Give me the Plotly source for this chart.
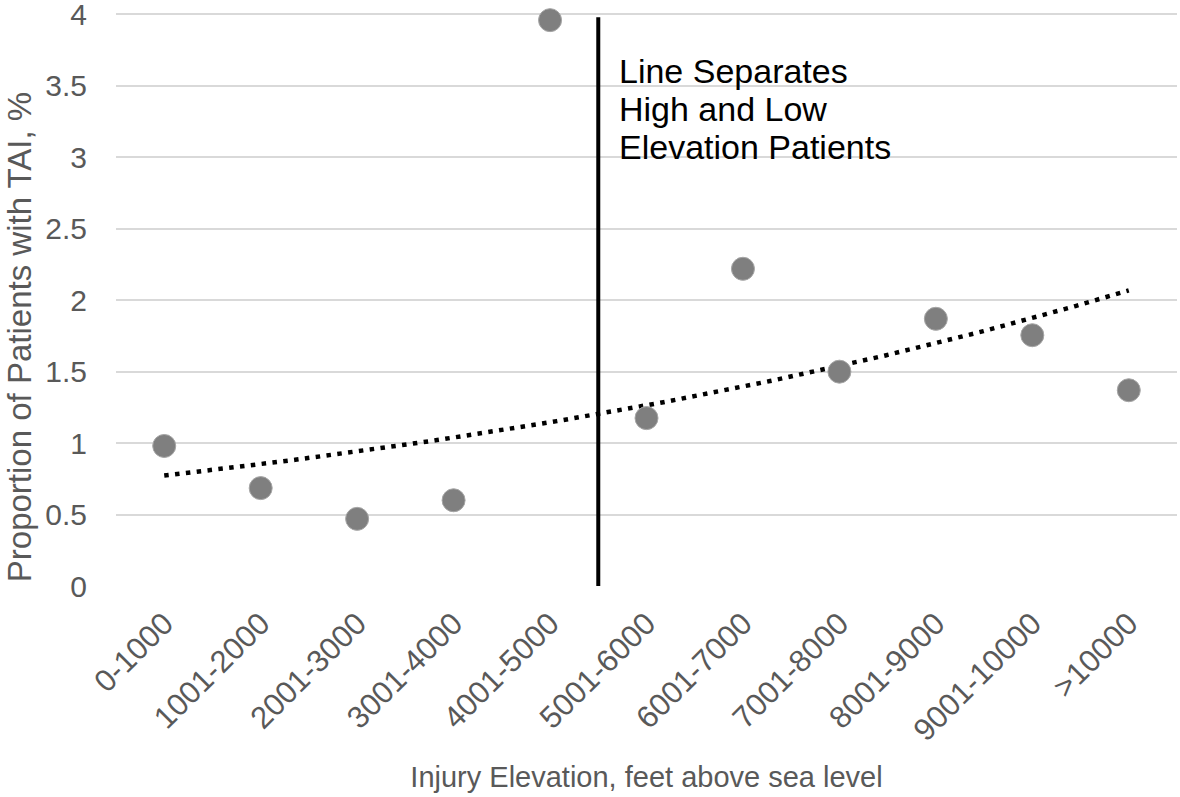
import numpy as np
import plotly.graph_objects as go

categories = ["0-1000", "1001-2000", "2001-3000", "3001-4000", "4001-5000",
              "5001-6000", "6001-7000", "7001-8000", "8001-9000", "9001-10000", ">10000"]
proportion_tai = [0.98, 0.685, 0.47, 0.60, 3.96, 1.175, 2.22, 1.50, 1.87, 1.755, 1.37]
y_tick_vals = [0, 0.5, 1, 1.5, 2, 2.5, 3, 3.5, 4]
y_tick_text = ["0", "0.5", "1", "1.5", "2", "2.5", "3", "3.5", "4"]
separator_position = 4.5  # between 4001-5000 and 5001-6000
separator_top = 3.98
annotation_lines = ["Line Separates", "High and Low", "Elevation Patients"]

x_idx = np.arange(len(categories))

# Exponential trendline fit (like Excel's exponential trendline)
b, ln_a = np.polyfit(x_idx, np.log(proportion_tai), 1)
x_fit = np.linspace(x_idx[0], x_idx[-1], 200)
y_fit = np.exp(ln_a) * np.exp(b * x_fit)

FONT = "Liberation Sans, Arial, sans-serif"
GRAY_TXT = "#595959"

fig = go.Figure()

fig.add_trace(go.Scatter(
    x=x_fit, y=y_fit, mode="lines",
    line=dict(color="black", width=4.5, dash="4.5px,6.4px"),
    hoverinfo="skip", showlegend=False,
))

fig.add_trace(go.Scatter(
    x=[separator_position, separator_position], y=[0, separator_top], mode="lines",
    line=dict(color="black", width=4),
    hoverinfo="skip", showlegend=False,
))

fig.add_trace(go.Scatter(
    x=x_idx, y=proportion_tai, mode="markers",
    marker=dict(color="#7f7f7f", size=23, line=dict(color="#a6a6a6", width=1)),
    cliponaxis=False, showlegend=False,
))

# annotation lines, spaced ~38.5px apart
for i, line_text in enumerate(annotation_lines):
    fig.add_annotation(
        x=separator_position, y=3.605 - i * 0.268, xref="x", yref="y",
        xanchor="left", yanchor="middle", xshift=19, align="left",
        text=line_text, showarrow=False,
        font=dict(family=FONT, size=34, color="black"),
    )

fig.add_annotation(
    x=-0.091, y=0.435, xref="paper", yref="paper",
    xanchor="center", yanchor="middle", textangle=-90,
    text="Proportion of Patients with TAI, %", showarrow=False,
    font=dict(family=FONT, size=33, color=GRAY_TXT),
)

fig.update_layout(
    width=1180, height=797,
    margin=dict(l=116, r=3, t=13, b=211, autoexpand=False),
    plot_bgcolor="white", paper_bgcolor="white",
    font=dict(family=FONT, size=32, color=GRAY_TXT),
    showlegend=False,
)

fig.update_xaxes(
    range=[-0.5, 10.5], automargin=False,
    tickmode="array", tickvals=list(x_idx), ticktext=categories,
    tickangle=-45, showgrid=False, zeroline=False, showline=False,
    ticks="outside", ticklen=6, tickcolor="rgba(0,0,0,0)",
    tickfont=dict(family=FONT, size=31, color=GRAY_TXT),
    ticklabeloverflow="allow",
    title=dict(text="Injury Elevation, feet above sea level",
               font=dict(family=FONT, size=29, color=GRAY_TXT), standoff=20),
)

fig.update_yaxes(
    range=[0, 4.01], automargin=False,
    tickmode="array", tickvals=y_tick_vals, ticktext=y_tick_text,
    showgrid=True, gridcolor="#d9d9d9", gridwidth=2,
    zeroline=False, showline=False,
    ticks="outside", ticklen=22, tickcolor="rgba(0,0,0,0)",
    tickfont=dict(family=FONT, size=30, color=GRAY_TXT),
    ticklabeloverflow="allow",
)

# remove the browser's default 8px body margin so the figure fills the window
fig.write_html("out.html", config={"displayModeBar": False},
               post_script="document.body.style.margin='0px';")
